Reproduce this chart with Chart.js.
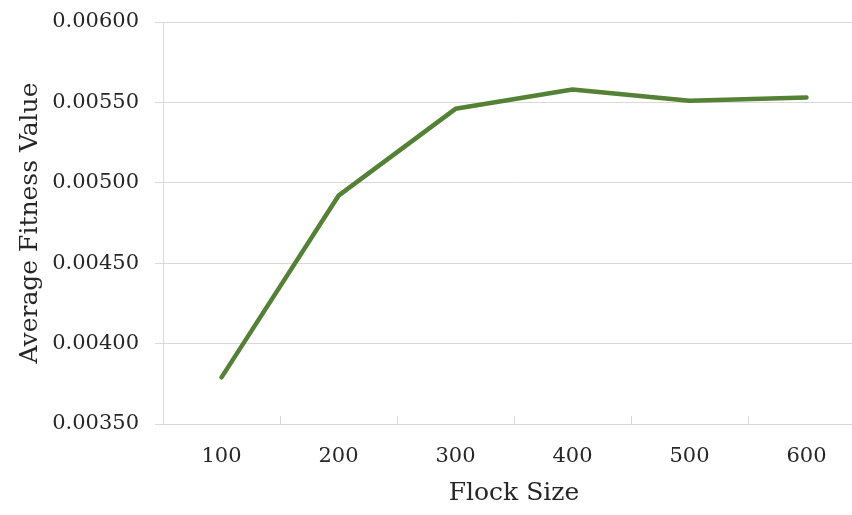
<!DOCTYPE html>
<html lang="en">
<head>
  <meta charset="UTF-8">
  <title>Average Fitness Value vs Flock Size</title>
  <script src="https://cdn.jsdelivr.net/npm/chart.js"></script>
  <style>
    html, body { margin: 0; padding: 0; background: #fff; overflow: hidden; }
    #wrap { width: 866px; height: 515px; }
  </style>
</head>
<body>
  <div id="wrap"><canvas id="fitnessChart"></canvas></div>

  <script>
    // Data
    const flockSizes = ['100', '200', '300', '400', '500', '600'];
    const avgFitness = [0.00379, 0.00492, 0.00546, 0.00558, 0.00551, 0.00553];
    const yTicks = [0.0035, 0.0040, 0.0045, 0.0050, 0.0055, 0.0060];

    const textColor = '#262626';
    const gridColor = '#d9d9d9';

    const ctx = document.getElementById('fitnessChart').getContext('2d');

    new Chart(ctx, {
      type: 'line',
      data: {
        labels: flockSizes,
        datasets: [{
          label: 'Average Fitness Value',
          data: avgFitness,
          borderColor: '#548235',
          borderWidth: 4.5,
          borderCapStyle: 'round',
          borderJoinStyle: 'round',
          pointRadius: 0,
          tension: 0,
          fill: false
        }]
      },
      options: {
        responsive: true,
        maintainAspectRatio: false,
        animation: false,
        layout: { padding: { top: 22, right: 1, bottom: 7, left: 0 } },
        plugins: {
          legend: { display: false },
          tooltip: { enabled: false }
        },
        scales: {
          x: {
            type: 'category',
            offset: true,
            grid: {
              offset: true,
              drawOnChartArea: false,
              drawTicks: true,
              tickLength: -8,
              color: gridColor
            },
            border: { color: gridColor, width: 1 },
            ticks: {
              color: textColor,
              padding: 28,
              font: { family: 'DejaVu Serif', size: 21 }
            },
            title: {
              display: true,
              text: 'Flock Size',
              color: textColor,
              font: { family: 'DejaVu Serif', size: 25 },
              padding: { top: 0, bottom: 0 }
            },
            afterFit: (scale) => { scale.height = 84; }
          },
          y: {
            min: yTicks[0],
            max: yTicks[yTicks.length - 1],
            afterBuildTicks: (scale) => {
              scale.ticks = yTicks.map(v => ({ value: v }));
            },
            grid: {
              color: gridColor,
              drawTicks: true,
              tickLength: 8
            },
            border: { color: gridColor, width: 1 },
            ticks: {
              color: textColor,
              padding: 16,
              font: { family: 'DejaVu Serif', size: 21 },
              callback: (v) => Number(v).toFixed(5)
            },
            title: {
              display: true,
              text: 'Average Fitness Value',
              color: textColor,
              font: { family: 'DejaVu Serif', size: 25 },
              padding: { top: 15, bottom: 0 }
            },
            afterFit: (scale) => {
              scale.width = 163;
              scale.paddingTop = 0;
              scale.paddingBottom = 0;
            }
          }
        }
      }
    });
  </script>
</body>
</html>
